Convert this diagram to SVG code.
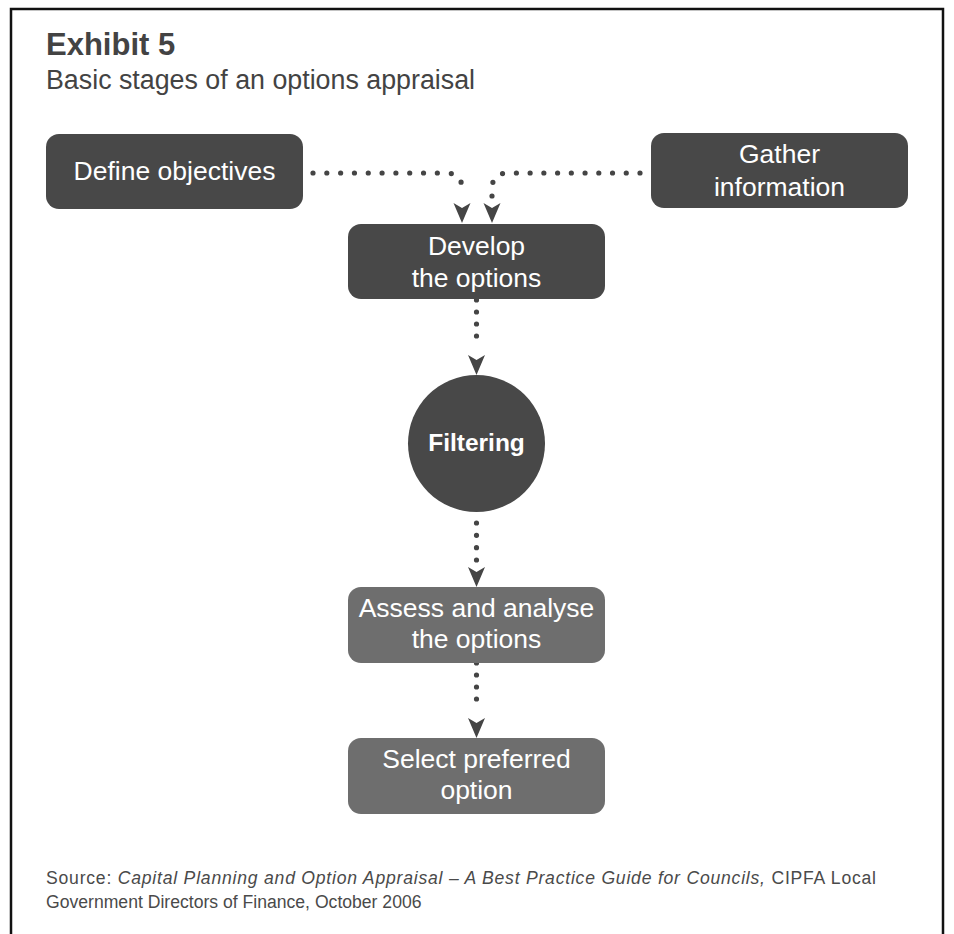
<svg xmlns="http://www.w3.org/2000/svg" width="954" height="934" viewBox="0 0 954 934">
<defs>
<style>
.frame{fill:#fff;stroke:#111;stroke-width:2.5}
.dark{fill:#484848}
.light{fill:#6e6e6e}
.lbl{font-family:"Liberation Sans",Arial,sans-serif;font-size:26.5px;fill:#fff;text-anchor:middle}
.bold{font-weight:bold;font-size:24.5px}
.dots{fill:none;stroke:#454545;stroke-width:5.2;stroke-linecap:round;stroke-dasharray:0 1}
.title{font-family:"Liberation Sans",Arial,sans-serif;fill:#434343}
.src{font-family:"Liberation Sans",Arial,sans-serif;font-size:17.6px;fill:#4a4a4a}
</style>
<marker id="arr" markerUnits="userSpaceOnUse" viewBox="0 -10 30 20" markerWidth="30" markerHeight="20" refX="0" refY="0" orient="auto">
<path d="M12,0 L7,-8.5 L27,0 L7,8.5 Z" fill="#454545"/>
</marker>
</defs>
<rect x="0" y="0" width="954" height="934" fill="#fff"/>
<path class="frame" d="M11,940 V9 H943 V940"/>
<g id="heading">
<text class="title" x="46" y="55" font-size="31" font-weight="bold">Exhibit 5</text>
<text class="title" x="46" y="89" font-size="26.8">Basic stages of an options appraisal</text>
</g>
<g id="connectors">
<path class="dots" pathLength="12" marker-end="url(#arr)" d="M313,173 H446 Q462,173 462,189 V196"/>
<path class="dots" pathLength="12" marker-end="url(#arr)" d="M640,173 H508 Q492,173 492,189 V196"/>
<path class="dots" pathLength="4" marker-end="url(#arr)" d="M476.5,300 V348"/>
<path class="dots" pathLength="3" marker-end="url(#arr)" d="M476.5,523 V560"/>
<path class="dots" pathLength="4" marker-end="url(#arr)" d="M476.5,663 V711"/>
</g>
<g id="define-objectives">
<rect class="dark" x="46" y="134" width="257" height="75" rx="13"/>
<text class="lbl" x="174.5" y="180">Define objectives</text>
</g>
<g id="gather-information">
<rect class="dark" x="651" y="133" width="257" height="75" rx="13"/>
<text class="lbl" x="779.5" y="163">Gather</text>
<text class="lbl" x="779.5" y="196">information</text>
</g>
<g id="develop-options">
<rect class="dark" x="348" y="224" width="257" height="75" rx="13"/>
<text class="lbl" x="476.5" y="255">Develop</text>
<text class="lbl" x="476.5" y="287">the options</text>
</g>
<g id="filtering">
<circle class="dark" cx="476.5" cy="443.5" r="68.5"/>
<text class="lbl bold" x="476.5" y="451">Filtering</text>
</g>
<g id="assess-analyse">
<rect class="light" x="348" y="587" width="257" height="76" rx="13"/>
<text class="lbl" x="476.5" y="617">Assess and analyse</text>
<text class="lbl" x="476.5" y="648">the options</text>
</g>
<g id="select-preferred">
<rect class="light" x="348" y="738" width="257" height="76" rx="13"/>
<text class="lbl" x="476.5" y="768">Select preferred</text>
<text class="lbl" x="476.5" y="799">option</text>
</g>
<g id="source">
<text class="src" x="46" y="884" textLength="830" lengthAdjust="spacing">Source: <tspan font-style="italic">Capital Planning and Option Appraisal – A Best Practice Guide for Councils,</tspan> CIPFA Local</text>
<text class="src" x="46" y="908">Government Directors of Finance, October 2006</text>
</g>
</svg>
